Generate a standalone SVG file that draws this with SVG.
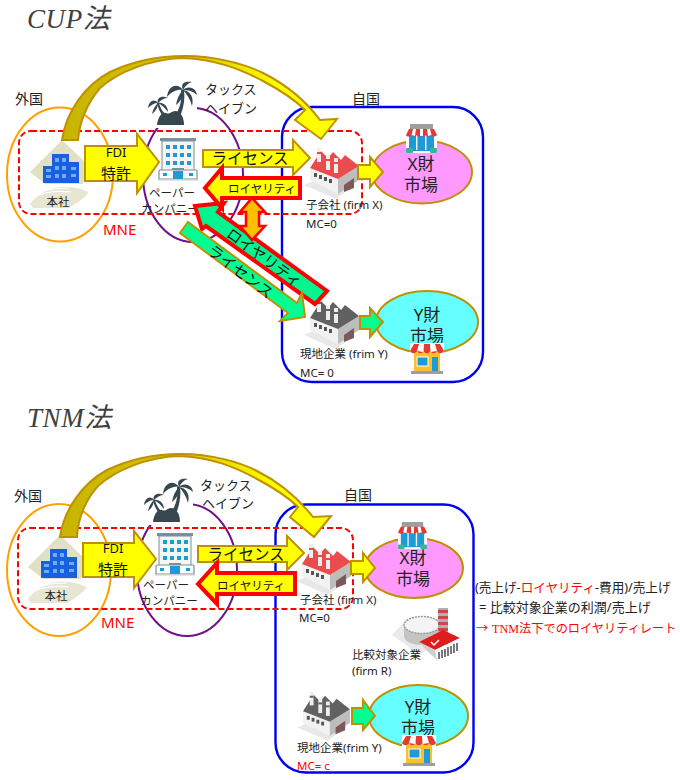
<svg xmlns="http://www.w3.org/2000/svg" width="680" height="780" viewBox="0 0 680 780" lang="ja">
<style>
text{font-family:"Noto Sans","Noto Sans CJK JP",sans-serif;fill:#222;font-size:11.5px}
.m{text-anchor:middle}
.title{font-family:"Liberation Serif","Noto Sans CJK JP",serif;font-style:italic;font-size:27px;fill:#404040;letter-spacing:.6px}
.lb{font-size:14px}.th{font-size:13px}.mne{font-size:15px;fill:#f00}
.mk{font-size:17px;text-anchor:middle}
.al{font-size:15.5px;text-anchor:middle;fill:#111}
.rl{font-size:11.5px;text-anchor:middle;fill:#111}
.ny{fill:none;stroke:#ffa000;stroke-width:2}
.np{fill:none;stroke:#70108a;stroke-width:2}
.nb{fill:none;stroke:#0000f0;stroke-width:2.4}
.nr{fill:none;stroke:#f00;stroke-width:2;stroke-dasharray:6 3}
.ay{fill:#ff0;stroke:#bf9000;stroke-width:2}
.ag{fill:#00ff90;stroke:#bf9000;stroke-width:2}
.ar{fill:#ff0;stroke:#f00;stroke-width:4}
.agr{fill:#00f590;stroke:#f00;stroke-width:4}
.ao{fill:#ffc000;stroke:#f00;stroke-width:2.5}
.ac{fill:url(#cv);stroke:#bf9000;stroke-width:2}
.ex{fill:#ff99ff;stroke:#bf9000;stroke-width:2}
.ey{fill:#66ffff;stroke:#bf9000;stroke-width:2}
</style>
<defs>
<linearGradient id="cv" x1="0" y1="0" x2="1" y2="0"><stop offset="0" stop-color="#c8b400"/><stop offset=".45" stop-color="#d6c600"/><stop offset=".8" stop-color="#ffff00"/></linearGradient>
<symbol id="factory" viewBox="0 0 52 48" overflow="visible">
<polygon points="-4,38 28,52 44,40 20,28" fill="#e8e8e8"/>
<polygon points="2,21 30,32 30,47 2,33" fill="#f2f2f2"/>
<polygon points="30,32 51,19 51,33 30,47" fill="#bdbdbd"/>
<polygon points="36,38 46,31 46,41 36,45" fill="#7d5a5a"/>
<g fill="#555"><rect x="6" y="26" width="3" height="4"/><rect x="11" y="28" width="3" height="4"/><rect x="16" y="30" width="3" height="4"/><rect x="21" y="32" width="3" height="4"/></g>
<polygon points="2,21 13,4 20,11 25,5 33,13 37,8 51,19 30,32" fill="currentColor"/>
<g fill="#eee"><rect x="9" y="1" width="4" height="14"/><rect x="18" y="8" width="4" height="15"/><rect x="26" y="11" width="4" height="15"/></g>
<g fill="currentColor"><rect x="9" y="5" width="4" height="2"/><rect x="18" y="12" width="4" height="2"/><rect x="26" y="15" width="4" height="2"/></g>
</symbol>
<symbol id="palm" viewBox="0 0 50 44" overflow="visible">
<rect x="-1" y="-1" width="50" height="47" fill="#fff"/>
<g fill="#37474f">
<path d="M9 43C10 35 14 30 18 31C22 33 23 29 27 29C33 29 36 36 36 43Z"/>
<path d="M33 8C34 16 33 24 28 32L33 32C36 24 37 16 36 8Z"/>
<path d="M35 8C29 0 20 4 19 15C24 9 30 7 35 8ZM35 8C32 1 37-1 44 0C40 1 37 4 35 8ZM35 8C41 3 48 6 49 13C45 9 40 8 35 8ZM35 8C43 9 46 16 44 24C42 17 39 12 35 8ZM35 8C36 14 33 19 28 23C29 17 31 12 35 8Z"/>
<path d="M9 21C10 26 12 30 14 33L17 32C14 29 12 25 11 21Z"/>
<path d="M10 21C6 16 1 19 0 26C3 23 6 21 10 21ZM10 21C8 16 14 13 20 16C16 16 13 18 10 21ZM10 21C15 20 20 24 20 30C17 26 14 23 10 21ZM10 21C10 25 8 29 4 32C5 27 7 24 10 21Z"/>
</g>
</symbol>
<symbol id="office" viewBox="0 0 38 44" overflow="visible">
<rect x="-1" y="-1" width="40" height="46" fill="#fff"/>
<rect x="3" y="3" width="32" height="34" fill="#f5f5f5" stroke="#78909c"/>
<rect x="1" y="0" width="36" height="3" fill="#78909c"/>
<g fill="#1e9ad6"><rect x="7" y="7" width="4" height="4"/><rect x="14" y="7" width="4" height="4"/><rect x="21" y="7" width="4" height="4"/><rect x="28" y="7" width="4" height="4"/><rect x="7" y="15" width="4" height="4"/><rect x="14" y="15" width="4" height="4"/><rect x="21" y="15" width="4" height="4"/><rect x="28" y="15" width="4" height="4"/><rect x="7" y="23" width="4" height="4"/><rect x="14" y="23" width="4" height="4"/><rect x="21" y="23" width="4" height="4"/><rect x="28" y="23" width="4" height="4"/></g>
<rect x="0" y="32" width="38" height="9" rx="1" fill="#fff" stroke="#78909c" stroke-width="1.2"/>
<rect x="4" y="35" width="4" height="3" fill="#1e9ad6"/><rect x="30" y="35" width="4" height="3" fill="#1e9ad6"/>
<rect x="13" y="30" width="12" height="2" fill="#78909c"/><rect x="14" y="33" width="10" height="8" fill="#1e9ad6"/>
<rect x="-1" y="41" width="40" height="1.5" fill="#ccc"/>
</symbol>
<symbol id="hq" viewBox="0 0 66 70" overflow="visible">
<polygon points="37,2 5,34 20,46 58,46 64,28" fill="#dfe0c4"/>
<path d="M5 66C18 48 42 44 64 54C58 62 50 66 44 70H8Z" fill="#e6e6d2"/>
<path d="M2 62C16 54 30 52 46 54M5 58C16 52 30 50 44 50" fill="none" stroke="#fff" stroke-width="1.2"/>
<g fill="#1a5fe0"><rect x="18" y="28" width="10" height="17"/><rect x="27" y="16" width="17" height="29"/><rect x="43" y="24" width="11" height="21"/></g>
<g fill="#6ab0ff"><rect x="21" y="31" width="5" height="3"/><rect x="21" y="37" width="5" height="3"/><rect x="30" y="20" width="4" height="4"/><rect x="37" y="20" width="4" height="4"/><rect x="30" y="28" width="4" height="4"/><rect x="37" y="28" width="4" height="4"/><rect x="30" y="36" width="4" height="4"/><rect x="37" y="36" width="4" height="4"/><rect x="46" y="29" width="5" height="3"/><rect x="46" y="36" width="5" height="3"/></g>
</symbol>
<symbol id="shopx" viewBox="0 0 33 30" overflow="visible">
<rect x="1" y="0" width="31" height="29" fill="#fff"/>
<rect x="5" y="0" width="23" height="6" fill="#9e9e9e"/>
<rect x="4" y="10" width="25" height="17" fill="#1e9ad6"/>
<g fill="#e8eef2"><rect x="11" y="10" width="1.5" height="16"/><rect x="20" y="10" width="1.5" height="16"/></g>
<path d="M4 5H29L32 11C30 13 28 13 26.500 11C25 13 22 13 21 11C19.500 13 17 13 16.500 11C15 13 13 13 11.500 11C10 13 8 13 6.500 11C5 13 2 13 1 11Z" fill="#e53935"/>
<path d="M8 5L6.500 11L10 12L11 5ZM15 5V12H18V5ZM22 5L23 12L26.500 11L25 5Z" fill="#fff"/>
<rect x="1" y="24" width="7" height="5" rx="1" fill="#3bb39a"/><rect x="25" y="24" width="7" height="5" rx="1" fill="#3bb39a"/>
</symbol>
<symbol id="shopy" viewBox="0 0 34 32" overflow="visible">
<rect x="0" y="0" width="34" height="32" fill="#fff"/>
<rect x="4" y="8" width="26" height="20" fill="#fbc02d"/>
<rect x="7" y="14" width="11" height="9" fill="#1e9ad6" stroke="#fff"/>
<rect x="22" y="14" width="6" height="14" fill="#1e9ad6"/>
<path d="M4 1H30L34 8C32 11 29 11 27 8C25 11 22 11 20.500 8C19 11 15 11 13.500 8C12 11 9 11 7 8C5 11 2 11 0 8Z" fill="#e53935"/>
<path d="M9 1L7 8L13.500 9L14 1ZM20 1L20.500 9L27 8L25 1Z" fill="#fff"/>
<rect x="1" y="28" width="32" height="3" fill="#9e9e9e"/>
</symbol>
</defs>

<text class="title" x="27" y="28">CUP法</text>
<text class="title" x="27" y="427">TNM法</text>

<g id="regions-top">
<ellipse id="foreign-top" class="ny" cx="60" cy="174.500" rx="53" ry="67"/>
<ellipse id="haven-top" class="np" cx="193" cy="175" rx="50" ry="67"/>
<rect id="home-top" class="nb" x="282" y="107" width="201" height="275" rx="30"/>
<rect id="mne-top" class="nr" x="19" y="131" width="343" height="83" rx="12"/>
<text class="lb" x="15" y="104">外国</text>
<text class="lb" x="352" y="104">自国</text>
<text class="mne" x="103" y="235">MNE</text>
</g>

<g id="regions-bottom">
<ellipse id="foreign-bottom" class="ny" cx="59" cy="570" rx="52" ry="66"/>
<ellipse id="haven-bottom" class="np" cx="187" cy="570" rx="50" ry="66"/>
<rect id="home-bottom" class="nb" x="275.500" y="504.500" width="198" height="268" rx="30"/>
<rect id="mne-bottom" class="nr" x="18" y="528" width="335" height="81" rx="12"/>
<text class="lb" x="14" y="501">外国</text>
<text class="lb" x="344" y="500">自国</text>
<text class="mne" x="101" y="628">MNE</text>
</g>

<g id="hq-top"><use href="#hq" x="25" y="138" width="66" height="70"/><text class="m" x="58" y="206">本社</text></g>
<g id="palm-top"><use href="#palm" x="148" y="82" width="50" height="44"/><text class="th" x="205" y="94">タックス</text><text class="th" x="205" y="113">ヘイブン</text></g>
<g id="paper-top"><use href="#office" x="159" y="138" width="38" height="44"/><text class="m" x="172" y="197">ペーパー</text><text class="m" x="170" y="213">カンパニー</text></g>
<g id="sub-top"><use href="#factory" x="308" y="147" width="52" height="48" color="#e84c4c"/><text x="306" y="209">子会社 (firm X)</text><text x="306" y="228">MC=0</text></g>
<g id="local-top"><use href="#factory" x="308" y="297" width="52" height="48" color="#616161"/><text x="300" y="358">現地企業 (frim Y)</text><text x="300" y="377">MC= 0</text></g>
<g id="xmarket-top"><ellipse class="ex" cx="422" cy="172" rx="50" ry="31.500"/><use href="#shopx" x="405" y="124" width="33" height="30"/><text class="mk" x="421" y="170">X財</text><text class="mk" x="421" y="191">市場</text></g>
<g id="ymarket-top"><ellipse class="ey" cx="427" cy="322" rx="51" ry="31"/><text class="mk" x="427" y="321">Y財</text><text class="mk" x="427" y="342">市場</text><use href="#shopy" x="410" y="343" width="34" height="32"/></g>

<g id="hq-bottom"><use href="#hq" x="23" y="533" width="66" height="70"/><text class="m" x="56" y="600">本社</text></g>
<g id="palm-bottom"><use href="#palm" x="144" y="479" width="50" height="44"/><text class="th" x="200" y="490">タックス</text><text class="th" x="202" y="508">ヘイブン</text></g>
<g id="paper-bottom"><use href="#office" x="156" y="533" width="38" height="44"/><text class="m" x="166" y="589">ペーパー</text><text class="m" x="169" y="605">カンパニー</text></g>
<g id="sub-bottom"><use href="#factory" x="300" y="543" width="52" height="48" color="#e84c4c"/><text x="300" y="604">子会社 (firm X)</text><text x="299" y="622">MC=0</text></g>
<g id="compare-bottom">
<polygon points="392,635 404,622 440,640 420,655" fill="#eaeaea"/>
<path d="M404 625V636C404 648 440 648 440 636V625Z" fill="#c4c4c4"/>
<ellipse cx="422" cy="625" rx="18" ry="8.500" fill="#f4f4f4" stroke="#9a9a9a" stroke-width="1.5" stroke-dasharray="2 1"/>
<rect x="438" y="608" width="10" height="30" fill="#b0b0b0"/>
<g fill="#c8484c"><rect x="438" y="610" width="10" height="3"/><rect x="438" y="616" width="10" height="3"/><rect x="438" y="622" width="10" height="3"/><rect x="438" y="628" width="10" height="3"/></g>
<polygon points="419,642 443,630 460,638 435,650" fill="#e01c1c"/>
<polygon points="435,650 460,638 460,650 437,660" fill="#fff"/>
<path d="M439 652V659M442 650V658M445 649V657M448 647V656M451 646V654M454 644V653M457 643V651" stroke="#333" stroke-width="1.300"/>
<polygon points="419,642 435,650 437,660 427,651" fill="#cfcfcf"/>
<path d="M431 642L434 645L439 640" fill="none" stroke="#fff" stroke-width="1.500"/>
<text x="352" y="659">比較対象企業</text><text x="352" y="675">(firm R)</text>
</g>
<g id="local-bottom"><use href="#factory" x="300" y="691" width="52" height="46" color="#616161"/><text x="297" y="752">現地企業(frim Y)</text><text x="297" y="770" style="fill:#f00">MC= c</text></g>
<g id="xmarket-bottom"><ellipse class="ex" cx="414" cy="568" rx="49" ry="30"/><use href="#shopx" x="396" y="522" width="33" height="28"/><text class="mk" x="413" y="564">X財</text><text class="mk" x="413" y="585">市場</text></g>
<g id="ymarket-bottom"><ellipse class="ey" cx="418.500" cy="716" rx="49.500" ry="31"/><text class="mk" x="418" y="713">Y財</text><text class="mk" x="418" y="734">市場</text><use href="#shopy" x="402" y="735" width="34" height="32"/></g>

<g id="formula">
<text x="475" y="592" style="font-size:12.600px">(売上げ-<tspan style="fill:#f00">ロイヤリティ</tspan>-費用)/売上げ</text>
<text x="479" y="612" style="font-size:13px">= 比較対象企業の利潤/売上げ</text>
<text x="476" y="633" style="font-size:12.200px;fill:#f00">→<tspan x="492" style="font-family:'Liberation Serif','Noto Sans CJK JP',serif">TNM法下でのロイヤリティレート</tspan></text>
</g>

<g id="connectors">
<path class="ac" d="M62 140C66 112 85 85 110 72C135 60 160 56 185 56C215 56 245 64 263 73C285 84 305 100 320 120L337 119L321 139L295 120L305 110C295 100 280 90 263 81C240 69 215 59 183 58C150 59 118 72 100 88C90 100 80 118 78 140Z"/>
<polygon class="ay" points="85,146 137,146 137,134 159,162 137,193 137,181 85,181"/>
<text class="m" x="116" y="157" style="font-size:13px;fill:#111">FDI</text><text class="m" x="116" y="179" style="font-size:15px;fill:#111">特許</text>
<polygon class="ay" points="203,150 293,150 293,140 310,158 293,175 293,167 203,167"/>
<text class="al" x="250" y="164">ライセンス</text>
<polygon class="ay" points="358,165 370,165 370,157 383,172 370,187 370,179 358,179"/>
<polygon class="ag" points="360,316 370,316 370,308 383,322 370,337 370,329 360,329"/>
<polygon class="agr" points="195,206 224,203 218,212 327,291 315,304 206,226 202,229"/>
<text class="al" x="261" y="262" transform="rotate(36 261 262)" style="font-size:15px">ロイヤリティ</text>
<polygon class="ar" points="205,188 222,168 222,178 300,178 300,198 222,198 222,208"/>
<text class="rl" x="262" y="193">ロイヤリティ</text>
<polygon class="ao" points="252,198 265,212 259,212 259,226 265,226 252,240 240,226 246,226 246,212 240,212"/>
<polygon class="ag" points="188,222 297,303 302,293 305,317 280,321 288,313 180,233"/>
<text class="al" x="237" y="276" transform="rotate(37 237 276)">ライセンス</text>

<path class="ac" d="M60 537C64 509 83 483 107 470C132 458 156 454 181 454C211 454 240 462 257 471C279 482 298 498 313 517L331 516L314 537L290 517L298 507C288 497 274 488 257 479C235 467 211 457 179 456C147 457 116 470 98 486C88 497 78 515 77 537Z"/>
<polygon class="ay" points="83,543 134,543 134,531 156,559 134,588 134,577 83,577"/>
<text class="m" x="113" y="553" style="font-size:13px;fill:#111">FDI</text><text class="m" x="113" y="575" style="font-size:15px;fill:#111">特許</text>
<polygon class="ay" points="198,546 287,546 287,536 304,553 287,570 287,562 198,562"/>
<text class="al" x="246" y="560">ライセンス</text>
<polygon class="ar" points="198,584 217,563 217,573 295,573 295,594 217,594 217,604"/>
<text class="rl" x="251" y="590">ロイヤリティ</text>
<polygon class="ay" points="351,561 363,561 363,553 375,568 363,582 363,574 351,574"/>
<polygon class="ag" points="352,708 363,708 363,700 375,716 363,730 363,724 352,724"/>
</g>
</svg>
